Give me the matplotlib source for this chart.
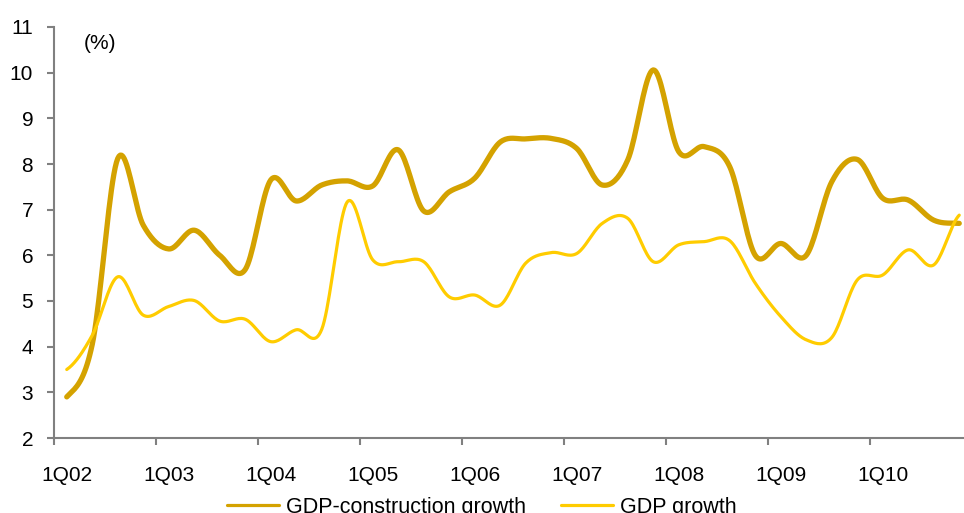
import numpy as np
import matplotlib
matplotlib.use('Agg')
import matplotlib.pyplot as plt

# quarterly series 1Q02 .. 4Q10 (%)
quarters = [f"{q}Q{y:02d}" for y in range(2, 11) for q in range(1, 5)]
construction = [2.90, 4.05, 8.12, 6.66, 6.14, 6.55, 6.00, 5.69, 7.65,
                7.19, 7.54, 7.63, 7.52, 8.31, 6.97, 7.39, 7.69, 8.48,
                8.55, 8.56, 8.34, 7.54, 8.09, 10.06, 8.27, 8.38, 7.94,
                6.00, 6.26, 6.00, 7.61, 8.10, 7.25, 7.21, 6.77, 6.70]
gdp = [3.50, 4.25, 5.53, 4.69, 4.88, 5.01, 4.56, 4.60, 4.11,
       4.37, 4.38, 7.17, 5.90, 5.86, 5.86, 5.09, 5.13, 4.91,
       5.83, 6.06, 6.04, 6.70, 6.81, 5.86, 6.23, 6.30, 6.32,
       5.39, 4.66, 4.15, 4.20, 5.46, 5.57, 6.12, 5.79, 6.88]
year_labels = ["1Q02", "1Q03", "1Q04", "1Q05", "1Q06", "1Q07", "1Q08", "1Q09", "1Q10"]


def smooth(y, n=20):
    # catmull-rom curve through the points, like Excel's smoothed line
    y = np.asarray(y, dtype=float)
    p = np.concatenate([[y[0]], y, [y[-1]]])
    xs, ys = [], []
    t = np.linspace(0, 1, n, endpoint=False)
    for i in range(len(y) - 1):
        p0, p1, p2, p3 = p[i], p[i + 1], p[i + 2], p[i + 3]
        seg = 0.5 * ((2 * p1) + (-p0 + p2) * t + (2 * p0 - 5 * p1 + 4 * p2 - p3) * t ** 2
                     + (-p0 + 3 * p1 - 3 * p2 + p3) * t ** 3)
        xs.extend(i + t)
        ys.extend(seg)
    xs.append(len(y) - 1)
    ys.append(y[-1])
    return np.array(xs), np.array(ys)


plt.rcParams['font.family'] = ['Liberation Sans', 'DejaVu Sans']

fig = plt.figure(figsize=(9.64, 5.13), dpi=100)
W, H = 964, 513
ax = fig.add_axes([54 / W, (H - 438) / H, 918 / W, 411 / H])

x1, y1 = smooth(construction)
x2, y2 = smooth(gdp)
ax.plot(x1, y1, color='#D4A200', lw=3.8, solid_capstyle='round', label='GDP-construction growth')
ax.plot(x2, y2, color='#FFCC00', lw=2.3, solid_capstyle='round', label='GDP growth')

ax.set_xlim(-0.5, len(quarters) - 0.5)
ax.set_ylim(2, 11)
ax.set_yticks(range(2, 12))

ax.set_xticks(np.arange(-0.5, len(quarters), 4))
ax.set_xticklabels([])
ax.set_xticks(np.arange(0, len(quarters), 4), minor=True)
ax.set_xticklabels(year_labels, minor=True)
ax.tick_params(axis='x', which='minor', length=0, pad=20, labelsize=15)
ax.tick_params(axis='x', which='major', length=5, width=1.5, color='#808080', direction='out')
ax.tick_params(axis='y', length=5, width=1.5, color='#808080', direction='out', labelsize=15, pad=10)

for s in ['top', 'right']:
    ax.spines[s].set_visible(False)
for s in ['left', 'bottom']:
    ax.spines[s].set_color('#808080')
    ax.spines[s].set_linewidth(1.5)

ax.text(0.05, 0.959, '(%)', transform=ax.transAxes, fontsize=15, ha='center', va='center')

leg = fig.legend(loc='center', bbox_to_anchor=(0.5, (H - 507) / H), ncol=2, frameon=False,
                 fontsize=15.5, handlelength=2.4, columnspacing=1.6, handletextpad=0.35)
for line in leg.get_lines():
    line.set_linewidth(2.3)

fig.savefig('out.png', dpi=100)
